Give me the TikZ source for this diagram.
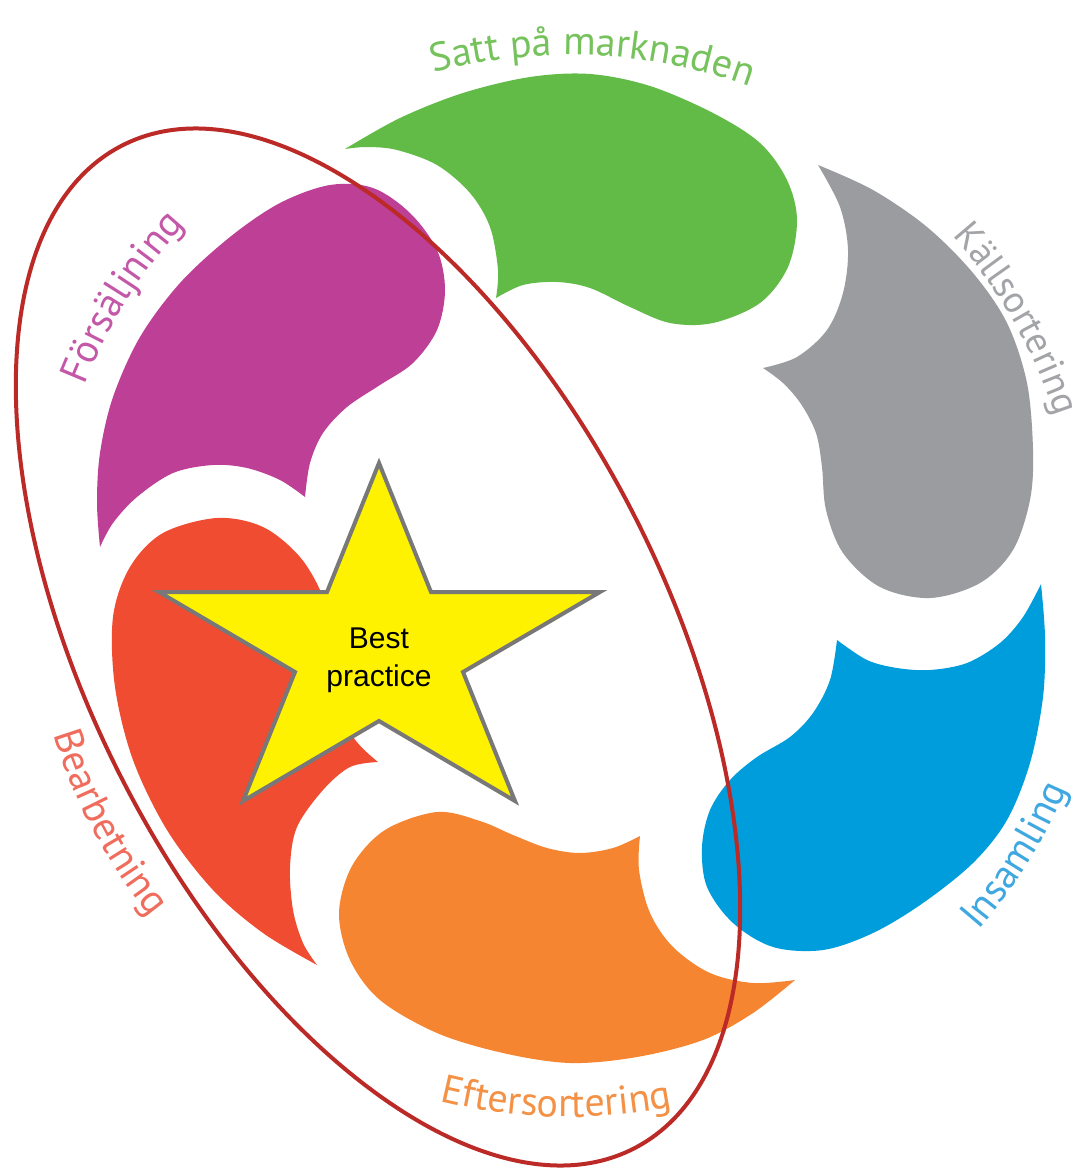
\documentclass[tikz,border=0pt]{standalone}
\usepackage{fontspec}
\setmainfont{Liberation Sans}
\newfontfamily\labfont{PT Sans}
\usetikzlibrary{decorations.text}
\definecolor{cgreen}{HTML}{62BB47}
\definecolor{cgray}{HTML}{9B9CA0}
\definecolor{cblue}{HTML}{009DDC}
\definecolor{corange}{HTML}{F58530}
\definecolor{cred}{HTML}{EF4C32}
\definecolor{cpurple}{HTML}{BE3F96}
\definecolor{tgreen}{HTML}{76C25C}
\definecolor{tgray}{HTML}{A3A4A8}
\definecolor{tblue}{HTML}{3FA8E0}
\definecolor{torange}{HTML}{F39246}
\definecolor{tred}{HTML}{F06C5C}
\definecolor{tpurple}{HTML}{C458A8}
\definecolor{ered}{HTML}{BB2A26}
\definecolor{starline}{HTML}{787878}
\begin{document}
\begin{tikzpicture}[x=1pt,y=1pt,
  blob/.style={fill=#1, draw=none},
  sm/.style={smooth, tension=0.55},
  lab/.style={decorate, decoration={text along path, text align=center, text={#1}}}]
\fill[white] (0,0) rectangle (1083,-1169);
\useasboundingbox (0,0) rectangle (1083,-1169);
% green
\path[blob=cgreen] plot[sm] coordinates {(345,-149) (400,-118) (463,-93) (530,-77) (590,-74) (650,-86) (713,-113) (760,-143) (787,-180) (797,-220) (788,-267) (760,-303) (713,-323) (670,-323) (630,-307) (590,-288) (557,-282) (523,-285) (496,-298)}
  -- plot[sm] coordinates {(496,-298) (498,-270) (490,-227) (470,-193) (437,-165) (397,-150) (367,-147) (345,-149)} -- cycle;
% gray
\path[blob=cgray] plot[sm] coordinates {(818,-165) (873,-190) (927,-227) (973,-273) (1007,-323) (1027,-383) (1033,-450) (1030,-500) (1013,-550) (980,-583) (930,-598) (880,-587) (843,-553) (826,-510) (822,-467) (816,-433) (801,-404) (783,-383) (763,-368)}
  -- plot[sm] coordinates {(763,-368) (797,-357) (827,-330) (843,-293) (848,-250) (840,-207) (818,-165)} -- cycle;
% blue
\path[blob=cblue] plot[sm] coordinates {(1041,-584) (1045,-637) (1043,-697) (1030,-763) (1007,-820) (973,-863) (923,-903) (873,-933) (823,-950) (773,-947) (733,-923) (707,-887) (702,-847) (710,-810) (730,-780) (757,-757) (790,-737) (813,-713) (830,-680) (837,-640)}
  -- plot[sm] coordinates {(837,-640) (867,-660) (897,-668) (930,-670) (967,-663) (1000,-643) (1023,-617) (1041,-584)} -- cycle;
% orange
\path[blob=corange] plot[sm] coordinates {(795,-980) (753,-1013) (703,-1040) (637,-1057) (570,-1063) (503,-1053) (437,-1033) (380,-1000) (350,-960) (339,-913) (352,-866) (385,-830) (437,-812) (480,-821) (513,-835) (547,-848) (580,-853) (613,-848) (640,-836)}
  -- plot[sm] coordinates {(640,-836) (639,-870) (650,-913) (673,-947) (710,-973) (753,-983) (795,-980)} -- cycle;
% red
\path[blob=cred] plot[sm] coordinates {(317,-965) (263,-933) (213,-890) (167,-830) (133,-760) (115,-687) (113,-617) (130,-567) (163,-533) (217,-518) (263,-527) (300,-557) (323,-597) (333,-640) (341,-690) (352,-735) (378,-762)}
  -- plot[sm] coordinates {(378,-762) (350,-767) (323,-790) (297,-827) (290,-867) (293,-910) (303,-943) (317,-965)} -- cycle;
% purple
\path[blob=cpurple] plot[sm] coordinates {(100,-547) (97,-503) (100,-453) (113,-397) (140,-337) (180,-283) (230,-237) (280,-203) (330,-185) (373,-188) (410,-213) (437,-250) (445,-290) (437,-330) (413,-363) (380,-385) (347,-407) (323,-433) (310,-463) (305,-497)}
  -- plot[sm] coordinates {(305,-497) (280,-480) (247,-468) (213,-465) (173,-473) (137,-497) (113,-523) (100,-547)} -- cycle;
% star
\filldraw[fill=yellow, draw=starline, line width=4, line join=miter]
  (379,-463) -- (431,-592) -- (600,-592) -- (463,-672) -- (515,-801) -- (379,-721) -- (243,-801) -- (295,-672) -- (159,-592) -- (327,-592) -- cycle;
\node[font=\fontsize{30}{38}\selectfont, align=center, inner sep=0] (bp) at (379,-660) {Best\\practice};
% ellipse
\draw[ered, line width=4, rotate around={-63:(378,-647)}] (378,-647) ellipse[x radius=563, y radius=288];
% labels
\path[lab={|\labfont\fontsize{40}{48}\selectfont\color{tgreen}|Satt på marknaden}] (570,-577) ++(132.5:522) arc[start angle=132.5, end angle=42.5, radius=522];
\path[lab={|\labfont\fontsize{38}{46}\selectfont\color{tgray}|Källsortering}] (570,-577) ++(75:512) arc[start angle=75, end angle=-15, radius=512];
\path[lab={|\labfont\fontsize{40}{48}\selectfont\color{tpurple}|Försäljning}] (570,-577) ++(193:522) arc[start angle=193, end angle=103, radius=522];
\path[lab={|\labfont\fontsize{40}{48}\selectfont\color{torange}|Eftersortering}] (570,-577) ++(223.5:540) arc[start angle=223.5, end angle=313.5, radius=540];
\path[lab={|\labfont\fontsize{40}{48}\selectfont\color{tblue}|Insamling}] (570,-577) ++(283:540) arc[start angle=283, end angle=373, radius=540];
\path[lab={|\labfont\fontsize{40}{48}\selectfont\color{tred}|Bearbetning}] (570,-577) ++(163:540) arc[start angle=163, end angle=253, radius=540];
\end{tikzpicture}
\end{document}
